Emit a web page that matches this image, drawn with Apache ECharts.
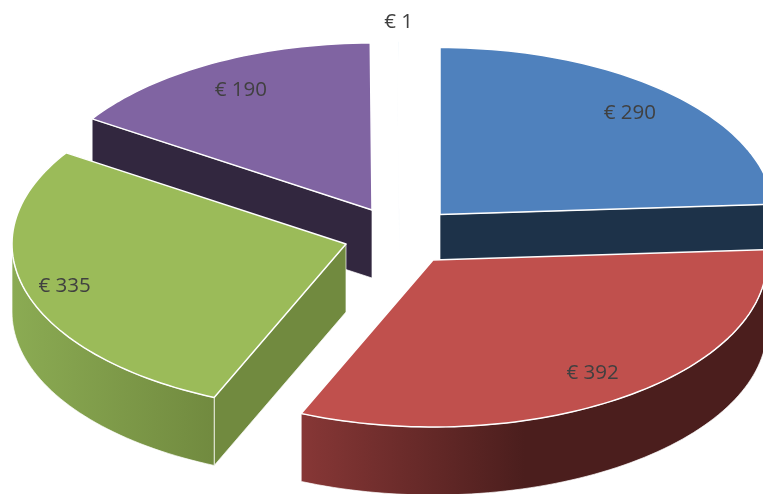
<!DOCTYPE html>
<html>
<head>
<meta charset="utf-8">
<style>
  html, body { margin: 0; padding: 0; background: #fff; overflow: hidden; }
  #chart { width: 763px; height: 494px; }
</style>
<script src="https://cdn.jsdelivr.net/npm/echarts@6/dist/echarts.min.js"></script>
</head>
<body>
<div id="chart"></div>
<script>
// data
const values = [290, 392, 335, 190, 1]
const currency = '€'

// look of the slices, same order as values
const topColors = ['#4f81bd', '#c0504d', '#9bbb59', '#8064a2', '#dcebf5']
const sideColors = ['#1d3249', '#4b1e1d', '#718a3f', '#32273f', '#e6f0f7']
const arcStops = [
  null,
  [[0, '#873736'], [0.48, '#4b1e1d'], [1, '#4b1e1d']],
  [[0, '#8bab53'], [1, '#718a3f']],
  null,
  null
]
const sliceShift = [[42, -19.5], [35, 26], [-52, 10], [-26, -24], [1.5, -26]]
const labelReach = [0.83, 0.83, 0.88, 0.82, 1.11]
const paintOrder = [3, 4, 0, 2, 1] // back to front

const cx = 398
const cy = 234
const rx = 334
const ry = 167
const depth = 68
const total = values.reduce((a, b) => a + b, 0)

const rad = d => d * Math.PI / 180

function arcPoints(ox, oy, from, to, drop) {
  const pts = []
  const n = Math.max(2, Math.ceil((to - from) / 1.5))
  for (let i = 0; i <= n; i++) {
    const t = rad(from + (to - from) * i / n)
    pts.push([ox + rx * Math.sin(t), oy - ry * Math.cos(t) + drop])
  }
  return pts
}

function sideWall(ox, oy, t, fill, z2) {
  const p = arcPoints(ox, oy, t, t, 0)[0]
  return {
    type: 'polygon',
    z2,
    shape: { points: [[ox, oy], p, [p[0], p[1] + depth], [ox, oy + depth]] },
    style: { fill, stroke: '#fff', lineWidth: 0.7 }
  }
}

function renderSlice(params, api) {
  const i = params.dataIndex
  const value = api.value(0)
  const before = values.slice(0, i).reduce((a, b) => a + b, 0)
  const a0 = before / total * 360
  const a1 = (before + value) / total * 360
  const ox = cx + sliceShift[i][0]
  const oy = cy + sliceShift[i][1]
  const base = paintOrder.indexOf(i) * 10
  const children = []

  // cut faces, only the ones turned towards the viewer
  if (Math.sin(rad(a0)) < 0) children.push(sideWall(ox, oy, a0, sideColors[i], base + 1))
  if (Math.sin(rad(a1)) > 0) children.push(sideWall(ox, oy, a1, sideColors[i], base + 1))

  // curved outer wall, front half of the ellipse
  const f0 = Math.max(a0, 90)
  const f1 = Math.min(a1, 270)
  if (f1 > f0) {
    const stops = arcStops[i]
    children.push({
      type: 'polygon',
      z2: base + 2,
      shape: { points: arcPoints(ox, oy, f0, f1, 0).concat(arcPoints(ox, oy, f0, f1, depth).reverse()) },
      style: {
        fill: stops
          ? new echarts.graphic.LinearGradient(0, 0, 1, 0, stops.map(s => ({ offset: s[0], color: s[1] })))
          : sideColors[i],
        stroke: '#fff',
        lineWidth: 0.7
      }
    })
  }

  // top face
  children.push({
    type: 'polygon',
    z2: base + 3,
    shape: { points: [[ox, oy]].concat(arcPoints(ox, oy, a0, a1, 0)) },
    style: { fill: topColors[i], stroke: '#fff', lineWidth: 1.5, lineJoin: 'round' }
  })

  const mid = rad((a0 + a1) / 2)
  children.push({
    type: 'text',
    z2: 100,
    style: {
      text: currency + ' ' + value,
      x: ox + rx * labelReach[i] * Math.sin(mid),
      y: oy - ry * labelReach[i] * Math.cos(mid),
      align: 'center',
      verticalAlign: 'middle',
      fill: '#404040',
      font: '20.5px "Open Sans", sans-serif'
    }
  })

  return { type: 'group', children }
}

const chart = echarts.init(document.getElementById('chart'))
chart.setOption({
  animation: false,
  backgroundColor: '#fff',
  series: [{
    type: 'custom',
    coordinateSystem: 'none',
    silent: true,
    data: values.map(v => [v]),
    renderItem: renderSlice
  }]
})
</script>
</body>
</html>
